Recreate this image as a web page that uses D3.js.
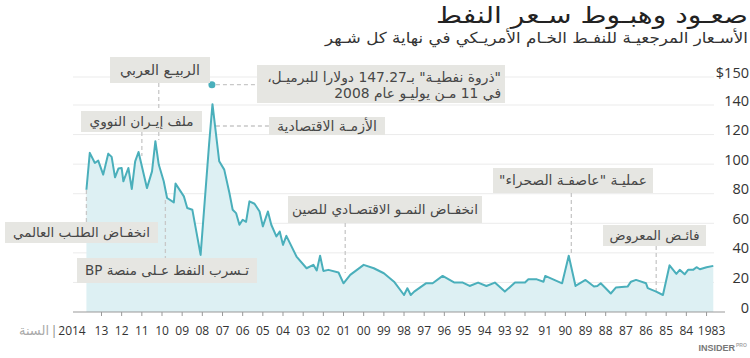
<!DOCTYPE html>
<html><head><meta charset="utf-8">
<script src="https://cdn.jsdelivr.net/npm/d3@7"></script>
<style>
html,body{margin:0;padding:0;background:#fff;}
svg{display:block;}
.ar{font-family:"DejaVu Sans",sans-serif;}
.num{font-family:"Open Sans",sans-serif;}
</style></head>
<body>
<svg id="chart" width="750" height="358"></svg>
<script>
// ---------- DATA ----------
const titleText = "صعـود وهبـوط سـعر النفط";
const subtitleText = "الأسـعار المرجعيـة للنفـط الخـام الأمريـكي في نهاية كل شـهر";
const yearAxisName = "السنة";

const months = [
"1983-09","1984-01","1984-05","1984-07","1984-09","1984-12","1985-02","1985-05","1985-07","1985-11",
"1986-03","1986-07","1986-12","1987-01","1987-07","1987-10","1987-12","1988-07","1988-10","1989-01",
"1989-04","1989-06","1989-08","1990-01","1990-07","1990-11","1991-03","1992-01","1992-02","1992-06",
"1992-11","1993-01","1993-07","1994-01","1994-07","1994-12","1995-05","1995-10","1996-02","1996-07",
"1997-02","1997-08","1997-12","1998-07","1998-09","1998-11","1999-01","1999-07","2000-01","2000-07",
"2001-01","2001-09","2002-01","2002-04","2002-10","2003-01","2003-03","2003-05","2003-07","2003-11",
"2004-05","2004-11","2005-01","2005-03","2005-05","2005-08","2005-10","2006-01","2006-03","2006-06",
"2006-09","2006-11","2007-01","2007-03","2007-05","2007-07","2007-09","2007-12","2008-03","2008-07",
"2008-09","2009-02","2009-07","2009-10","2009-12","2010-05","2010-06","2010-10","2010-12","2011-03",
"2011-05","2011-07","2011-10","2012-03","2012-05","2012-07","2012-09","2012-12","2013-01","2013-03",
"2013-05","2013-07","2013-09","2013-12","2014-03","2014-05","2014-08","2014-10"];
const prices = [
31.2,30.3,28.9,30.3,28.5,28.5,25.5,28.5,25.8,31.6,
11.5,13.8,16.1,19.4,21.7,20.5,17.2,16.5,12.5,16.1,
19.4,17.6,17.2,21.7,17.6,38.0,19.4,24.4,20.5,22.1,
22.1,19.9,19.9,13.8,19.9,17.6,19.9,17.6,19.9,19.9,
24.4,19.4,19.4,13.8,11.5,16.1,11.5,20.5,26.2,29.6,
31.9,25.1,19.4,26.7,28.5,27.8,38.0,28.0,31.9,29.6,
37.5,51.5,45.4,54.4,51.1,59.0,68.0,57.9,68.0,73.2,
74.8,61.0,62.4,59.0,66.9,69.2,81.0,96.3,101.9,140.3,
113.2,38.6,69.2,70.3,78.2,86.8,74.1,77.1,88.4,99.7,
115.5,95.1,83.8,108.2,101.9,83.2,97.4,88.4,97.4,97.0,
91.1,104.9,107.1,92.9,102.4,100.8,107.6,82.7];

const tickYears = [2013,2012,2011,2010,2009,2008,2007,2006,2005,2004,2003,2002,2001,2000,1999,1998,1997,1996,1995,1994,1993,1992,1991,1990,1989,1988,1987,1986,1985,1984,1983];
const tickYearLabels = ["13","12","11","10","09","08","07","06","05","04","03","02","01","00","99","98","97","96","95","94","93","92","91","90","89","88","87","86","85","84","1983"];
const firstYearLabel = "2014";

const yTickValues = [0,20,40,60,80,100,120,140,150];
const yTickLabels = ["0","20","40","60","80","100","120","140","$150"];

const peakDate = "2008-07-11";
const peakValue = 147.27;
const peakLines = ["\"ذروة نفطيـة\" بـ147.27 دولارا للبرميـل،", "في 11 مـن يوليـو عام 2008"];

const annotationTexts = [
 "الربيـع العربي",
 "ملف إيـران النووي",
 "انخفـاض الطلـب العالمي",
 "تـسرب النفط عـلى منصة BP",
 "الأزمـة الاقتصادية",
 "انخفـاض النمـو الاقتصـادي للصين",
 "عمليـة \"عاصفـة الصحراء\"",
 "فائـض المعروض"
];
const annotationDates = ["2011-03-01","2012-01-01","2014-10-01","2010-11-01",null,"2001-12-01","1990-09-15","1986-07-01"];

// ---------- LAYOUT ----------
const boxes = [
 {x:110, y:57,  w:100, h:26, tw:80},
 {x:81,  y:111, w:121, h:21, tw:104},
 {x:5,   y:222, w:153, h:21, tw:137},
 {x:77,  y:258, w:180, h:25, tw:164},
 {x:269, y:117, w:116, h:18, tw:100},
 {x:288, y:196, w:194, h:27, tw:186},
 {x:493, y:168, w:160, h:25, tw:148},
 {x:603, y:225, w:103, h:21, tw:90}
];
const leaders = [
 {y1:83, y2:140},
 {y1:132, y2:156},
 {y1:190, y2:222},
 {y1:200, y2:258},
 null,
 {y1:223, y2:273},
 {y1:193, y2:255},
 {y1:246, y2:292}
];
const peakBox = {x:257, y:65, w:248, h:38, right:501, tw:234};
const labelShift = {"92":-3, "1983":5};

const colLine = "#4aafbb", colArea = "#ddf0f3", colBox = "#e6e6e2", colText = "#474747",
      colLeader = "#c8c8c8", colGrid = "#ebebeb";

// ---------- SCALES ----------
const parse = d3.timeParse("%Y-%m");
const parseDay = d3.timeParse("%Y-%m-%d");
const data = months.map((m,i)=>({date:parse(m), v:prices[i]}));

const x = d3.scaleTime().domain([new Date(2015,5,1), new Date(1983,1,1)]).range([73,725]);
const y = d3.scaleLinear().domain([0,140,150]).range([312,105,77]);

const svg = d3.select("#chart");

function fit(sel, target){
  const base = parseFloat(sel.attr("font-size"));
  const w = sel.node().getComputedTextLength();
  if (w>0) sel.attr("font-size", (base*target/w).toFixed(2));
}

// title
svg.append("text").attr("class","ar").attr("direction","rtl")
  .attr("x",748).attr("y",23).attr("text-anchor","start").attr("font-size",23)
  .attr("textLength",312).attr("lengthAdjust","spacingAndGlyphs")
  .attr("fill","#222").text(titleText);
svg.append("text").attr("class","ar").attr("direction","rtl")
  .attr("x",748).attr("y",43).attr("text-anchor","start").attr("font-size",15)
  .attr("textLength",423).attr("lengthAdjust","spacingAndGlyphs")
  .attr("fill","#333").text(subtitleText);

// grid
svg.append("g").selectAll("line").data(yTickValues.filter(v=>v>0)).join("line")
  .attr("x1",73).attr("x2",714).attr("y1",d=>y(d)).attr("y2",d=>y(d))
  .attr("stroke",colGrid).attr("stroke-width",1);

// y labels
svg.append("g").selectAll("text").data(yTickValues).join("text")
  .attr("class","num").attr("x",749).attr("y",d=>y(d)+0.5)
  .attr("text-anchor","end").attr("font-size",14.5).attr("fill","#333")
  .text((d,i)=>yTickLabels[i]);

// area + line
const area = d3.area().x(d=>x(d.date)).y0(y(0)).y1(d=>y(d.v));
const line = d3.line().x(d=>x(d.date)).y(d=>y(d.v));
svg.append("path").datum(data).attr("d",area).attr("fill",colArea);

// x axis
svg.append("line").attr("x1",73).attr("x2",725).attr("y1",y(0)).attr("y2",y(0))
  .attr("stroke","#999").attr("stroke-width",1);
svg.append("g").selectAll("line").data(tickYears).join("line")
  .attr("x1",d=>x(new Date(d+1,0,1))).attr("x2",d=>x(new Date(d+1,0,1)))
  .attr("y1",y(0)).attr("y2",y(0)+4).attr("stroke","#999");
svg.append("g").selectAll("text").data(tickYears).join("text")
  .attr("class","num").attr("x",(d,i)=>x(new Date(d+1,0,1)) + (labelShift[tickYearLabels[i]]||0)).attr("y",335)
  .attr("text-anchor","middle").attr("font-size",12).attr("fill","#333")
  .text((d,i)=>tickYearLabels[i]);
svg.append("text").attr("class","num").attr("x",x.range()[0]-1).attr("y",335)
  .attr("text-anchor","middle").attr("font-size",12).attr("fill","#333").text(firstYearLabel);
svg.append("text").attr("class","num").attr("x",54).attr("y",335)
  .attr("text-anchor","middle").attr("font-size",13).attr("fill","#888").text("|");
svg.append("text").attr("class","ar").attr("direction","rtl").attr("x",49).attr("y",335)
  .attr("text-anchor","start").attr("font-size",13).attr("fill","#aaa").text(yearAxisName);

// leaders (vertical)
annotationDates.forEach((d,i)=>{
  if(!d || !leaders[i]) return;
  const xx = x(parseDay(d));
  svg.append("line").attr("x1",xx).attr("x2",xx).attr("y1",leaders[i].y1).attr("y2",leaders[i].y2)
    .attr("stroke",colLeader).attr("stroke-width",1.3).attr("stroke-dasharray","4,3");
});
// peak marker
const px = x(parseDay(peakDate)), py = y(peakValue);
svg.append("line").attr("x1",px+4).attr("x2",peakBox.x).attr("y1",py).attr("y2",py)
  .attr("stroke",colLeader).attr("stroke-width",1.3).attr("stroke-dasharray","4,3");
// crisis horizontal leader
svg.append("line").attr("x1",px+4).attr("x2",boxes[4].x).attr("y1",boxes[4].y+boxes[4].h/2).attr("y2",boxes[4].y+boxes[4].h/2)
  .attr("stroke",colLeader).attr("stroke-width",1.3).attr("stroke-dasharray","4,3");

svg.append("path").datum(data).attr("d",line).attr("fill","none")
  .attr("stroke",colLine).attr("stroke-width",2).attr("stroke-linejoin","round");
svg.append("circle").attr("cx",px).attr("cy",py).attr("r",3.5).attr("fill",colLine);

// annotation boxes
annotationTexts.forEach((t,i)=>{
  const b = boxes[i];
  svg.append("rect").attr("x",b.x).attr("y",b.y).attr("width",b.w).attr("height",b.h).attr("fill",colBox);
  const tx = svg.append("text").attr("class","ar").attr("direction","rtl")
    .attr("x",b.x+b.w/2).attr("y",b.y+b.h/2+4.5).attr("text-anchor","middle")
    .attr("font-size",14).attr("fill",colText).text(t);
  fit(tx, b.tw);
});
// peak box
svg.append("rect").attr("x",peakBox.x).attr("y",peakBox.y).attr("width",peakBox.w).attr("height",peakBox.h).attr("fill",colBox);
const pl1 = svg.append("text").attr("class","ar").attr("direction","rtl").attr("x",0).attr("y",peakBox.y+17)
  .attr("text-anchor","middle").attr("font-size",14).attr("fill",colText).text(peakLines[0]);
fit(pl1, peakBox.tw);
const fs = pl1.attr("font-size");
const pl2 = svg.append("text").attr("class","ar").attr("direction","rtl").attr("x",0).attr("y",peakBox.y+33)
  .attr("text-anchor","middle").attr("font-size",fs).attr("fill",colText).text(peakLines[1]);
[pl1,pl2].forEach(s=>{ const w=s.node().getComputedTextLength(); s.attr("x", peakBox.right - w/2); });

// logo
svg.append("text").attr("x",735).attr("y",351).attr("text-anchor","end")
  .attr("font-family","Liberation Sans Narrow, Liberation Sans, sans-serif").attr("font-weight","bold")
  .attr("font-size",9).attr("fill","#777").text("INSIDER");
svg.append("text").attr("x",736).attr("y",347)
  .attr("font-family","Liberation Sans, sans-serif").attr("font-weight","bold")
  .attr("font-size",5).attr("fill","#aaa").text("PRO");
</script>
</body></html>
